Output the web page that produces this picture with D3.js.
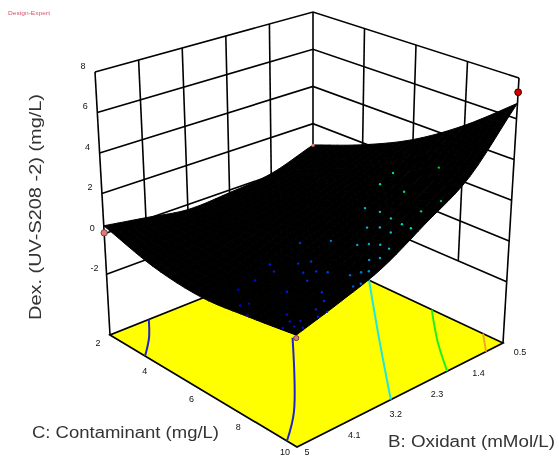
<!DOCTYPE html><html><head><meta charset="utf-8"><style>
html,body{margin:0;background:#fff}svg{display:block;filter:blur(.45px)}text{font-family:"Liberation Sans",Arial,sans-serif}
</style></head><body><script src="https://cdn.jsdelivr.net/npm/d3@7"></script><script>
const bTicks=[0.5,1.4,2.3,3.2,4.1,5];
const cTicks=[2,4,6,8,10];
const zTicks=[-2,0,2,4,6,8];
const zFloor=-5;
// response surface heights: rows follow cTicks, columns follow bTicks
const zRowC2=[.86,.1,-.13,-.25,.08,.4];
const zRowC4=[1.9,1.2,.7,.3,-.1,-.34];
const zRowC6=[3.15,2.1,1.3,.6,-.2,-.59];
const zRowC8=[4.8,3.0,1.9,1.0,.3,-.34];
const zRowC10=[6.76,4.04,2.6,1.34,.59,-.02];
const zGrid=[zRowC2,zRowC4,zRowC6,zRowC8,zRowC10];
// design points seen through the surface: B, C, height
const innerPoints=[[1.26,8.48,3.6],[1.34,6.82,2.6],[1.62,6.84,2.3],[1.72,8,2.6],[1.9,9.82,3.2],[2.14,7.24,1.8],[2.18,7.92,2],[2.1,9.42,2.7],[2.28,8.56,2.1],[2.36,9.16,2.2],[2.42,9.64,2.3],[2.56,8.14,1.7],[2.52,8.58,1.9],[2.58,9.14,2],[2.98,7.48,1.1],[3.18,6.6,.7],[2.84,8.76,1.5],[2.94,8.48,1.4],[2.84,9.22,1.7],[2.84,9.58,1.7],[3.12,9.32,1.3],[3.06,9.64,1.5],[3.6,7.34,.5],[3.5,7.68,.7],[3.8,6.56,.2],[3.92,6.96,.2],[3.76,7.86,.5],[3.68,8.24,.7],[3.62,8.6,.8],[3.4,9.54,1.1],[3.34,9.74,1.2],[3.54,9.36,1],[3.9,8.3,.5],[4.2,6.72,-.1],[3.72,9.84,.9],[3.62,9.96,1],[4.52,6.64,-.3],[4.24,8.12,.2],[4,9.1,.5],[4.76,7.56,-.2],[4.86,7.38,-.3],[4.18,9.54,.5],[4.36,9.56,.3],[4.34,9.98,.4],[5,7.96,-.3],[4.66,8.94,0],[4.5,9.92,.3],[4.78,9.3,0],[4.7,9.58,.1],[4.84,9.6,0],[4.96,9.36,-.1],[4.82,9.92,.1]];
// corner design points: B, C, height
const cornerPoints=[[5,2,.05],[.5,2,.84],[5,10,-.15]];
const topPoint=[[.5,10,7.3]];
// floor contour lines as B, C
const contourBlueA=[[4.14,2],[4.55,2.8],[5,3.5]];
const contourBlueB=[[2.75,5.44],[4.33,8.56],[5,9.57]];
const contourCyan=[[.5,4.36],[1.76,7.2],[2.95,10]];
const contourGreen=[[.5,7],[1.18,8.56],[1.72,10]];
const contourOrange=[[.5,9.16],[.87,10]];

const W=559,H=457;
const svg=d3.select("body").append("svg").attr("width",W).attr("height",H);

// Box corner layout: floor and top, in view order left, front, right, back
const floorCorners=[[110,335],[297,447],[503,343],[313,254]];
const topCorners=[[95,72],[295,155],[519,78],[313,12]];
const bScale=d3.scaleLinear().domain([5,.5]).range([0,1]);
const cScale=d3.scaleLinear().domain([2,10]).range([0,1]);
const zScale=d3.scaleLinear().domain([zFloor,8]).range([0,1]);
function bilinear(q,b,c,k){return q[0][k]*(1-c)*(1-b)+q[1][k]*c*(1-b)+q[2][k]*c*b+q[3][k]*(1-c)*b;}
function proj(B,C,z){const b=bScale(B),c=cScale(C),w=zScale(z);
  return [0,1].map(k=>bilinear(floorCorners,b,c,k)*(1-w)+bilinear(topCorners,b,c,k)*w);}
const line=d3.line();
const path3=(pts)=>line(pts.map(p=>proj(p[0],p[1],p[2])));
const gridCol="#000";

// walls
const wall=svg.append("g").attr("fill","none").attr("stroke",gridCol).attr("stroke-width",1.6);
zTicks.forEach(z=>{
  wall.append("path").attr("d",path3([[5,2,z],[.5,2,z],[.5,10,z]]));
});
bTicks.forEach(B=>{
  const lo=(B===5)?zFloor:zTicks[0];
  wall.append("path").attr("d",path3([[B,2,lo],[B,2,8]]));
});
cTicks.slice(1).forEach(C=>{
  const lo=(C===10)?zFloor:zTicks[0];
  wall.append("path").attr("d",path3([[.5,C,lo],[.5,C,8]]));
});

// floor
svg.append("path").attr("d",line(floorCorners)+"Z")
  .attr("fill","#ffff00").attr("stroke",gridCol).attr("stroke-width",1.7);

// contours
[[contourBlueA,"#2222cc"],[contourBlueB,"#2222cc"],[contourCyan,"#22e6dc"],[contourGreen,"#22ee22"],[contourOrange,"#f5a623"]].forEach(([c,col])=>{
  svg.append("path").attr("d",d3.line()
      .x(d=>proj(d[0],d[1],zFloor)[0]).y(d=>proj(d[0],d[1],zFloor)[1]).curve(d3.curveCatmullRom)(c))
    .attr("fill","none").attr("stroke",col).attr("stroke-width",2);
});

// surface, smoothed between the grid heights
const bIdx=d3.scaleLinear().domain(bTicks).range(d3.range(bTicks.length));
const cIdx=d3.scaleLinear().domain(cTicks).range(d3.range(cTicks.length));
function cr(p,t){const [a,b,c,d]=p;return .5*(2*b+(c-a)*t+(2*a-5*b+4*c-d)*t*t+(3*b-a-3*c+d)*t*t*t);}
function pick(arr,i){ // extend ends linearly
  const n=arr.length; if(i<0) return 2*arr[0]-arr[1]; if(i>=n) return 2*arr[n-1]-arr[n-2]; return arr[i];}
function smoothZ(B,C){
  const u=bIdx(B),v=cIdx(C),i=Math.min(bTicks.length-2,Math.floor(u)),j=Math.min(cTicks.length-2,Math.floor(v));
  const col=(row)=>cr([-1,0,1,2].map(d=>pick(row,i+d)),u-i);
  const rows=[-1,0,1,2].map(d=>{
    if(j+d<0) return 2*col(zGrid[0])-col(zGrid[1]);
    if(j+d>=zGrid.length) return 2*col(zGrid[zGrid.length-1])-col(zGrid[zGrid.length-2]);
    return col(zGrid[j+d]);});
  return cr(rows,v-j);
}
const meshB=d3.range(0,31).map(k=>.5+4.5*k/30), meshC=d3.range(0,25).map(k=>2+8*k/24);
const surf=svg.append("g").attr("fill","#000").attr("stroke","#000").attr("stroke-width",1);
for(let j=0;j<meshC.length-1;j++)for(let i=0;i<meshB.length-1;i++){
  const q=[[i,j],[i+1,j],[i+1,j+1],[i,j+1]].map(([a,b])=>[meshB[a],meshC[b],smoothZ(meshB[a],meshC[b])]);
  surf.append("path").attr("d",path3(q)+"Z");
}

// points
const dotColor=d3.scaleLinear().domain([-.3,.7,1.2,1.7,2.3,3.2,3.6])
  .range(["#0000e0","#0030e0","#0090d0","#00c0d0","#00d8b0","#00cc60","#00cc10"]);
svg.append("g").selectAll("circle").data(innerPoints).join("circle")
  .attr("cx",d=>proj(d[0],d[1],d[2])[0]).attr("cy",d=>proj(d[0],d[1],d[2])[1])
  .attr("r",1.2).attr("fill",d=>dotColor(d[2]));
svg.append("g").selectAll("circle").data(cornerPoints).join("circle")
  .attr("cx",d=>proj(d[0],d[1],d[2])[0]).attr("cy",d=>proj(d[0],d[1],d[2])[1])
  .attr("r",(d,i)=>i===0?3.2:i===1?1.6:2.6).attr("fill","#e07a7a").attr("stroke","#533").attr("stroke-width",(d,i)=>i===1?0:.8);
svg.append("g").selectAll("circle").data(topPoint).join("circle")
  .attr("cx",d=>proj(d[0],d[1],d[2])[0]).attr("cy",d=>proj(d[0],d[1],d[2])[1])
  .attr("r",3.4).attr("fill","#cc0000").attr("stroke","#400").attr("stroke-width",1);

// tick labels
const tick=svg.append("g").attr("font-size",9).attr("fill","#111").attr("text-anchor","middle");
zTicks.forEach(z=>{const p=proj(5,2,z);
  tick.append("text").attr("x",p[0]-12).attr("y",p[1]-3).text(z);});
cTicks.forEach(C=>{const p=proj(5,C,zFloor);
  tick.append("text").attr("x",p[0]-12).attr("y",Math.min(p[1]+11,455)).text(C);});
const bOffset=d3.scaleLinear().domain([.5,4.1,5]).range([17,16,10]);
bTicks.forEach(B=>{const p=proj(B,10,zFloor);
  tick.append("text").attr("x",p[0]+bOffset(B)).attr("y",Math.min(p[1]+12,455)).text(B);});

// axis titles
const title=svg.append("g").attr("font-size",16).attr("fill","#333");
title.append("text").attr("x",32).attr("y",438).attr("textLength",187).attr("lengthAdjust","spacingAndGlyphs").text("C: Contaminant (mg/L)");
title.append("text").attr("x",388).attr("y",447).attr("textLength",167).attr("lengthAdjust","spacingAndGlyphs").text("B: Oxidant (mMol/L)");
title.append("text").attr("transform","translate(41,320) rotate(-90)").attr("textLength",226).attr("lengthAdjust","spacingAndGlyphs").text("Dex. (UV-S208 -2) (mg/L)");

// faint header
svg.append("text").attr("x",8).attr("y",15).attr("font-size",5.5).attr("fill","#d9506a")
  .attr("textLength",42).attr("lengthAdjust","spacingAndGlyphs").text("Design-Expert");
</script></body></html>
